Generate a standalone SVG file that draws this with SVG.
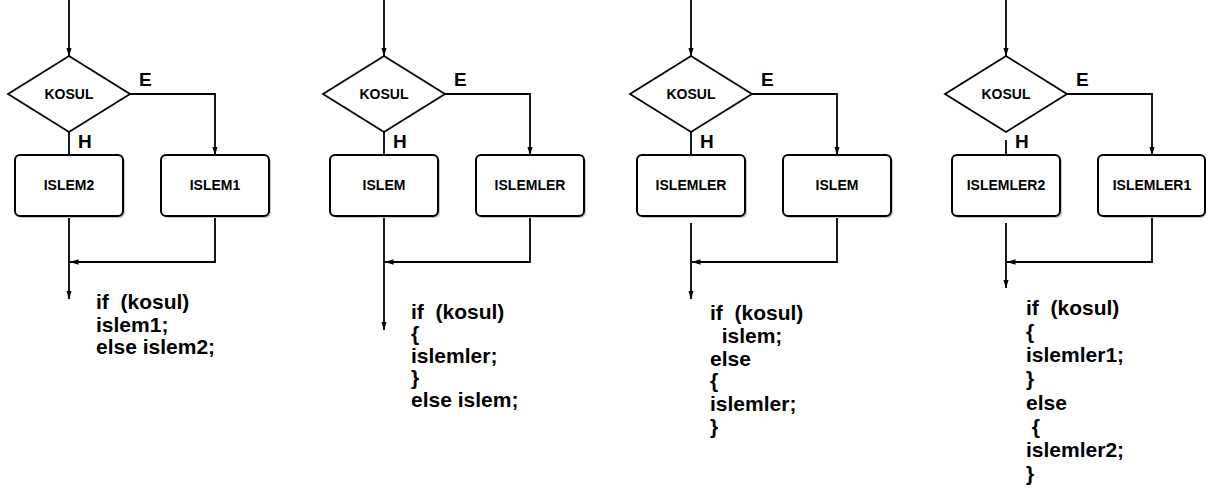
<svg xmlns="http://www.w3.org/2000/svg" width="1208" height="495" viewBox="0 0 1208 495">
  <style>
    .dec { fill: #ffffff; stroke: #000000; stroke-width: 1.8; stroke-linejoin: miter; }
    .box { fill: #ffffff; stroke: #000000; stroke-width: 2; }
    .shadow { fill: #c8c8c8; }
    .lbl { font-family: "Liberation Sans", Arial, sans-serif; font-weight: bold; font-size: 14px; fill: #000; text-anchor: middle; }
    .yn { font-family: "Liberation Sans", Arial, sans-serif; font-weight: bold; font-size: 19px; fill: #000; }
    .code { font-family: "Liberation Sans", Arial, sans-serif; font-weight: bold; font-size: 21px; fill: #000; white-space: pre; }
    .wire { fill: none; stroke: #000000; stroke-width: 1.8; }
    .arr { marker-end: url(#head); }
  </style>
  <defs>
    <marker id="head" markerUnits="userSpaceOnUse" markerWidth="9" markerHeight="6" refX="8.5" refY="2.75" orient="auto">
      <path d="M0,0 L8.5,2.75 L0,5.5 z" fill="#000"/>
    </marker>
  </defs>
  <rect width="1208" height="495" fill="#ffffff"/>

  <!-- connectors -->
  <g id="connectors">
    <!-- flow 1 -->
    <path class="wire arr" d="M69,0 V56"/>
    <path class="wire arr" d="M130,94 H215 V155"/>
    <path class="wire" d="M69,132 V155"/>
    <path class="wire arr" d="M215,216 V262 H70"/>
    <path class="wire arr" d="M69,216 V299"/>
    <!-- flow 2 -->
    <path class="wire arr" d="M384,0 V56"/>
    <path class="wire arr" d="M445,94 H530 V155"/>
    <path class="wire" d="M384,132 V155"/>
    <path class="wire arr" d="M530,216 V262 H385"/>
    <path class="wire arr" d="M384,216 V330"/>
    <!-- flow 3 -->
    <path class="wire arr" d="M691,0 V56"/>
    <path class="wire arr" d="M752,94 H837 V155"/>
    <path class="wire" d="M691,132 V155"/>
    <path class="wire arr" d="M837,216 V262 H692"/>
    <path class="wire arr" d="M691,223 V299"/>
    <!-- flow 4 -->
    <path class="wire arr" d="M1006,0 V56"/>
    <path class="wire arr" d="M1067,94 H1152 V155"/>
    <path class="wire" d="M1006,140 V155"/>
    <path class="wire arr" d="M1152,216 V262 H1007"/>
    <path class="wire arr" d="M1006,223 V288"/>
  </g>

  <!-- flow 1: if / else, single statements -->
  <g id="kosul1">
    <polygon class="dec" points="69,56 130,94 69,132 8,94"/>
    <text class="lbl" x="69" y="99">KOSUL</text>
    <text class="yn" x="139" y="86">E</text>
    <text class="yn" x="78" y="148">H</text>
  </g>
  <g id="islem2">
    <rect class="shadow" x="17" y="157" width="108" height="61" rx="5"/>
    <rect class="box" x="15" y="155" width="108" height="61" rx="5"/>
    <text class="lbl" x="69" y="190">ISLEM2</text>
  </g>
  <g id="islem1">
    <rect class="shadow" x="163" y="157" width="108" height="61" rx="5"/>
    <rect class="box" x="161" y="155" width="108" height="61" rx="5"/>
    <text class="lbl" x="215" y="190">ISLEM1</text>
  </g>
  <g id="code1">
    <text class="code" xml:space="preserve"><tspan x="96" y="309">if  (kosul)</tspan><tspan x="96" y="331.5">islem1;</tspan><tspan x="96" y="354">else islem2;</tspan></text>
  </g>

  <!-- flow 2: block on true branch -->
  <g id="kosul2">
    <polygon class="dec" points="384,56 445,94 384,132 323,94"/>
    <text class="lbl" x="384" y="99">KOSUL</text>
    <text class="yn" x="454" y="86">E</text>
    <text class="yn" x="393" y="148">H</text>
  </g>
  <g id="islem">
    <rect class="shadow" x="332" y="157" width="108" height="61" rx="5"/>
    <rect class="box" x="330" y="155" width="108" height="61" rx="5"/>
    <text class="lbl" x="384" y="190">ISLEM</text>
  </g>
  <g id="islemler">
    <rect class="shadow" x="478" y="157" width="108" height="61" rx="5"/>
    <rect class="box" x="476" y="155" width="108" height="61" rx="5"/>
    <text class="lbl" x="530" y="190">ISLEMLER</text>
  </g>
  <g id="code2">
    <text class="code" xml:space="preserve"><tspan x="411" y="319">if  (kosul)</tspan><tspan x="411" y="341">{</tspan><tspan x="411" y="363">islemler;</tspan><tspan x="411" y="385">}</tspan><tspan x="411" y="407">else islem;</tspan></text>
  </g>

  <!-- flow 3: block on false branch -->
  <g id="kosul3">
    <polygon class="dec" points="691,56 752,94 691,132 630,94"/>
    <text class="lbl" x="691" y="99">KOSUL</text>
    <text class="yn" x="761" y="86">E</text>
    <text class="yn" x="700" y="148">H</text>
  </g>
  <g id="islemler-h">
    <rect class="shadow" x="639" y="157" width="108" height="61" rx="5"/>
    <rect class="box" x="637" y="155" width="108" height="61" rx="5"/>
    <text class="lbl" x="691" y="190">ISLEMLER</text>
  </g>
  <g id="islem-e">
    <rect class="shadow" x="785" y="157" width="108" height="61" rx="5"/>
    <rect class="box" x="783" y="155" width="108" height="61" rx="5"/>
    <text class="lbl" x="837" y="190">ISLEM</text>
  </g>
  <g id="code3">
    <text class="code" xml:space="preserve"><tspan x="710" y="320">if  (kosul)</tspan><tspan x="710" y="342.8">  islem;</tspan><tspan x="710" y="365.6">else</tspan><tspan x="710" y="388.4">{</tspan><tspan x="710" y="411.2">islemler;</tspan><tspan x="710" y="434">}</tspan></text>
  </g>

  <!-- flow 4: blocks on both branches -->
  <g id="kosul4">
    <polygon class="dec" points="1006,56 1067,94 1006,132 945,94"/>
    <text class="lbl" x="1006" y="99">KOSUL</text>
    <text class="yn" x="1076" y="86">E</text>
    <text class="yn" x="1015" y="148">H</text>
  </g>
  <g id="islemler2">
    <rect class="shadow" x="954" y="157" width="108" height="61" rx="5"/>
    <rect class="box" x="952" y="155" width="108" height="61" rx="5"/>
    <text class="lbl" x="1006" y="190">ISLEMLER2</text>
  </g>
  <g id="islemler1">
    <rect class="shadow" x="1100" y="157" width="106" height="61" rx="5"/>
    <rect class="box" x="1098" y="155" width="107" height="61" rx="5"/>
    <text class="lbl" x="1152" y="190">ISLEMLER1</text>
  </g>
  <g id="code4">
    <text class="code" xml:space="preserve"><tspan x="1026" y="315">if  (kosul)</tspan><tspan x="1026" y="338.7">{</tspan><tspan x="1026" y="362.4">islemler1;</tspan><tspan x="1026" y="386.1">}</tspan><tspan x="1026" y="409.8">else</tspan><tspan x="1026" y="433.5"> {</tspan><tspan x="1026" y="457.2">islemler2;</tspan><tspan x="1026" y="480.9">}</tspan></text>
  </g>
</svg>
